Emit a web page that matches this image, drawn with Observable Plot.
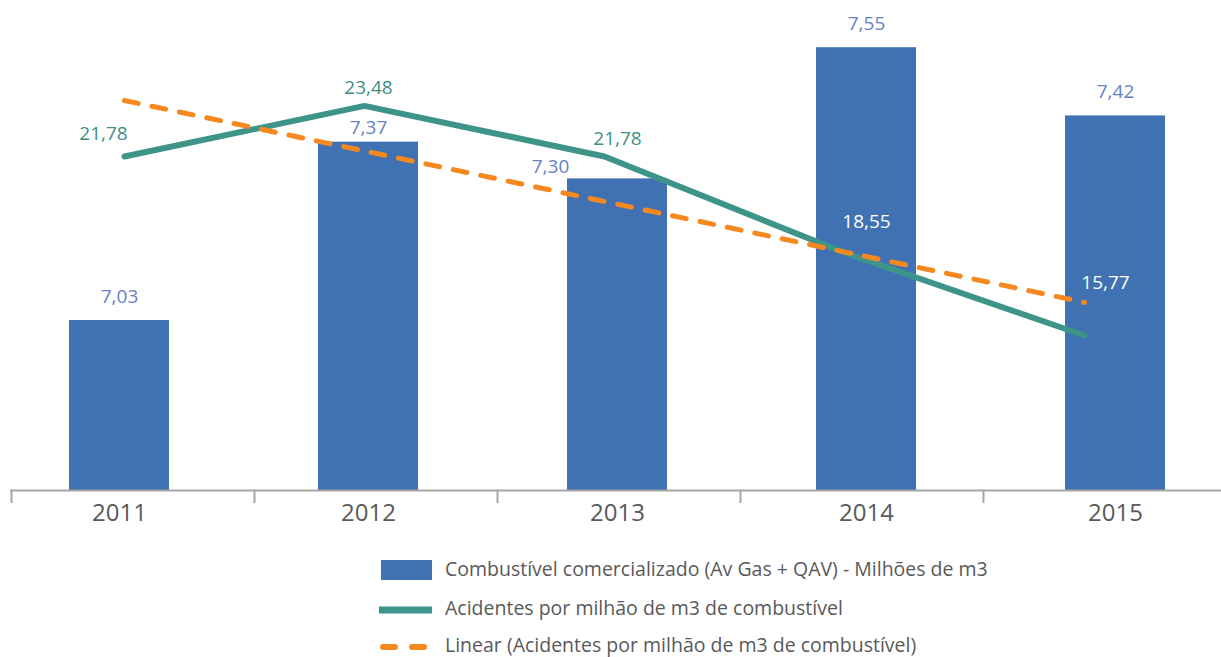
<!DOCTYPE html>
<html>
<head>
<meta charset="utf-8">
<script src="https://cdn.jsdelivr.net/npm/d3@7"></script>
<script src="https://cdn.jsdelivr.net/npm/@observablehq/plot@0.6"></script>
<style>
  html, body { margin: 0; padding: 0; background: #ffffff; }
  #wrap { position: relative; width: 1221px; height: 657px; overflow: hidden; font-family: "Open Sans", sans-serif; }
  #wrap > svg { position: absolute; left: 0; top: 0; }
</style>
</head>
<body>
<div id="wrap"></div>
<script>
// ---- data ----
const years = ["2011", "2012", "2013", "2014", "2015"];
const fuel = [7.03, 7.37, 7.30, 7.55, 7.42];            // Combustível comercializado (milhões de m3)
const accidents = [21.78, 23.48, 21.78, 18.55, 15.77];  // Acidentes por milhão de m3
const fuelDomain = [6.706, 7.64];
const accDomain = [10.565, 27.02];
const legendLabels = [
  "Combustível comercializado (Av Gas + QAV) - Milhões de m3",
  "Acidentes por milhão de m3 de combustível",
  "Linear (Acidentes por milhão de m3 de combustível)"
];

// ---- styling ----
const W = 1221, H = 540, BASE = 490;
const BLUE = "#4072b3", BLUE_LABEL = "#6482c4", TEAL = "#3f9489", TEAL_LABEL = "#3d8f86",
      ORANGE = "#f5891f", GREY = "#a6a6a6", TEXT = "#595959";
const FONT = "Open Sans";

const data = years.map((year, i) => ({year, fuel: fuel[i], acc: accidents[i]}));
const fmt = (v) => v.toFixed(2).replace(".", ",");
const barX = {type: "band", domain: years, range: [67, 1167], paddingInner: 0.6, paddingOuter: 0};
const common = {
  width: W, height: H, marginTop: 0, marginBottom: H - BASE, marginLeft: 10, marginRight: 0,
  style: {background: "transparent", fontFamily: FONT, overflow: "visible"}
};
const wrap = document.getElementById("wrap");
const only = (y) => data.filter(d => d.year === y);

// bars + axis
const lowered = ["2012", "2013"];
const main = Plot.plot({
  ...common,
  x: {...barX, label: null},
  y: {domain: fuelDomain, range: [BASE, 0], axis: null},
  marks: [
    Plot.barY(data, {x: "year", y: "fuel", fill: BLUE, clip: true}),
    Plot.ruleY([fuelDomain[0]], {stroke: GREY, strokeWidth: 2}),
    Plot.axisX({tickSize: 0, tickPadding: 13, fontSize: 24, fill: TEXT, label: null}),
    Plot.text(data.filter(d => !lowered.includes(d.year)), {x: "year", y: "fuel", text: d => fmt(d.fuel), dy: -24, fill: BLUE_LABEL, fontSize: 19}),
    Plot.text(only("2012"), {x: "year", y: "fuel", text: d => fmt(d.fuel), dy: -14, fill: BLUE_LABEL, fontSize: 19}),
    Plot.text(only("2013"), {x: "year", y: "fuel", text: d => fmt(d.fuel), dy: -12, dx: -67, fill: BLUE_LABEL, fontSize: 19})
  ]
});
wrap.appendChild(main);

// category separator ticks
const ticks = Plot.plot({
  width: W, height: H, marginTop: BASE, marginBottom: H - 503, marginLeft: 0, marginRight: 0,
  style: {background: "transparent", overflow: "visible"},
  x: {type: "point", domain: years, range: [10, 984], padding: 0, axis: null},
  marks: [Plot.ruleX(years, {stroke: GREY, strokeWidth: 2})]
});
wrap.appendChild(ticks);

// accident line + linear trend
const lines = Plot.plot({
  ...common,
  x: {type: "point", domain: years, range: [123, 1085], padding: 0, axis: null},
  y: {domain: accDomain, range: [BASE, 0], axis: null},
  marks: [
    Plot.line(data, {x: "year", y: "acc", stroke: TEAL, strokeWidth: 6}),
    Plot.linearRegressionY(data, {x: "year", y: "acc", ci: 0, stroke: ORANGE, strokeWidth: 5,
      strokeDasharray: "14,14", strokeLinecap: "round"})
  ]
});
wrap.appendChild(lines);

// accident value labels
const labels = Plot.plot({
  ...common,
  x: {...barX, axis: null},
  y: {domain: accDomain, range: [BASE, 0], axis: null},
  marks: [
    Plot.text(only("2011"), {x: "year", y: "acc", text: d => fmt(d.acc), dy: -23, dx: -16, fill: TEAL_LABEL, fontSize: 19}),
    Plot.text(data.filter(d => ["2012", "2013"].includes(d.year)), {x: "year", y: "acc", text: d => fmt(d.acc), dy: -18, fill: TEAL_LABEL, fontSize: 19}),
    Plot.text(only("2014"), {x: "year", y: "acc", text: d => fmt(d.acc), dy: -31, fill: "white", fontSize: 19}),
    Plot.text(only("2015"), {x: "year", y: "acc", text: d => fmt(d.acc), dy: -53, dx: -10, fill: "white", fontSize: 19})
  ]
});
wrap.appendChild(labels);

// legend (below the chart)
const leg = d3.create("svg").attr("width", W).attr("height", 657)
  .style("position", "absolute").style("left", 0).style("top", 0);
leg.append("rect").attr("x", 381).attr("y", 560).attr("width", 51).attr("height", 20).attr("fill", BLUE);
leg.append("line").attr("x1", 379).attr("x2", 432).attr("y1", 610).attr("y2", 610)
  .attr("stroke", TEAL).attr("stroke-width", 7);
leg.append("line").attr("x1", 383).attr("x2", 425).attr("y1", 647).attr("y2", 647)
  .attr("stroke", ORANGE).attr("stroke-width", 6).attr("stroke-linecap", "round").attr("stroke-dasharray", "12,17");
const legY = [576, 615, 652];
leg.selectAll("text").data(legendLabels).join("text")
  .attr("x", 445).attr("y", (d, i) => legY[i])
  .attr("fill", TEXT).attr("font-family", FONT).attr("font-size", 19.5)
  .text(d => d);
wrap.appendChild(leg.node());
</script>
</body>
</html>
